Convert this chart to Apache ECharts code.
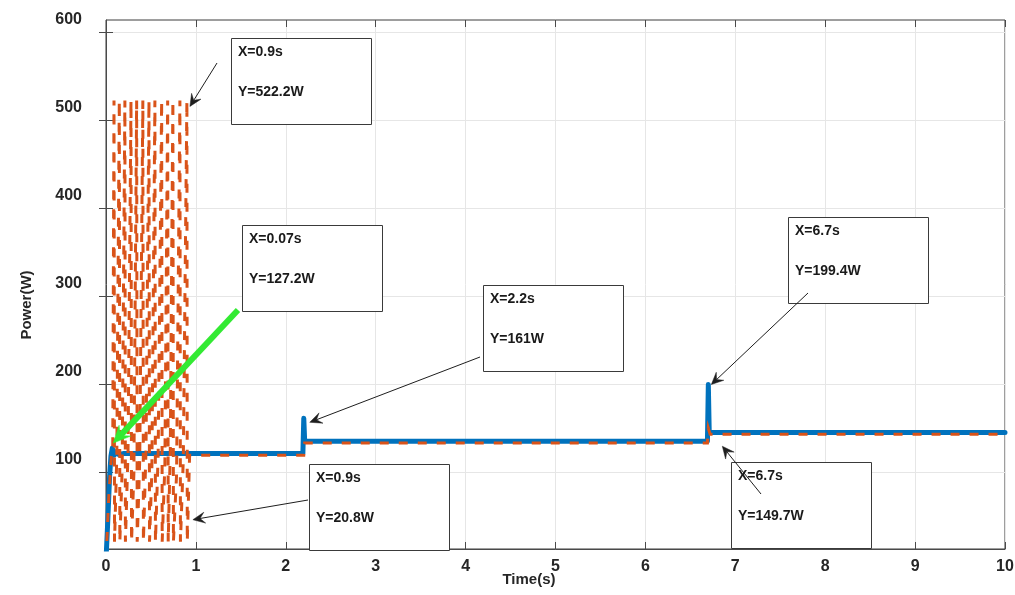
<!DOCTYPE html>
<html>
<head>
<meta charset="utf-8">
<title>Power(W)</title>
<script src="https://cdn.jsdelivr.net/npm/echarts@6/dist/echarts.min.js"></script>
<style>
  html, body { margin: 0; padding: 0; background: #ffffff; }
  #chart { width: 1015px; height: 595px; }
</style>
</head>
<body>
<div id="chart"></div>
<script>
// Axis ticks
const xTickValues = [0, 1, 2, 3, 4, 5, 6, 7, 8, 9, 10];
const yTickValues = [100, 200, 300, 400, 500, 600];

// Power drawn by the first (blue) trace: start-up, then load steps at 2.2 s and 6.7 s
const blueTime  = [0, 0.02, 0.04, 0.055, 0.07, 0.09, 0.11, 0.14, 0.2, 2.19, 2.2, 2.21, 6.69, 6.7, 6.71, 10];
const bluePower = [0, 45, 95, 118, 127.2, 119, 123, 120, 121, 121, 161, 135, 135, 199.4, 145, 145];

// Power drawn by the second (orange, dashed) trace: oscillating start-up up to 0.9 s, then steps
const orangeTime = [
  0, 0.03, 0.06, 0.075,
  0.089, 0.095, 0.12,
  0.148, 0.154, 0.18,
  0.21, 0.216, 0.245,
  0.278, 0.284, 0.31,
  0.341, 0.347, 0.375,
  0.41, 0.416, 0.445,
  0.478, 0.484, 0.51,
  0.544, 0.55, 0.58,
  0.619, 0.625, 0.655,
  0.686, 0.692, 0.715,
  0.744, 0.75, 0.785,
  0.822, 0.828, 0.86,
  0.9, 0.904, 0.93,
  2.2, 2.21, 6.69, 6.7, 6.72, 10
];
const orangePower = [
  0, 70, 118, 126,
  522.2, 20.8, 117,
  522.2, 20.8, 104,
  522.2, 20.8, 122,
  522.2, 20.8, 98,
  522.2, 20.8, 113,
  522.2, 20.8, 125,
  522.2, 20.8, 101,
  522.2, 20.8, 119,
  522.2, 20.8, 108,
  522.2, 20.8, 124,
  522.2, 20.8, 97,
  522.2, 20.8, 115,
  522.2, 20.8, 119,
  119, 133, 133, 149.7, 143, 143
];

// Data-tip callouts: the point they describe, then box/arrow layout in pixels
const callouts = [
  { x: 0.9,  y: 522.2, box: [231, 38],  tail: [217, 63],  tipOffset: [3, 6] },
  { x: 0.07, y: 127.2, box: [242, 225], tail: [238, 310], tipOffset: [1, -5], green: true },
  { x: 2.2,  y: 161,   box: [483, 285], tail: [480, 357], tipOffset: [6, 4] },
  { x: 6.7,  y: 199.4, box: [788, 217], tail: [808, 293], tipOffset: [3, 0] },
  { x: 0.9,  y: 20.8,  box: [309, 464], tail: [308, 500], tipOffset: [6, -22] },
  { x: 6.7,  y: 149.7, box: [731, 462], tail: [761, 494], tipOffset: [14, 18] }
];

const Y_MIN = 12.5, Y_MAX = 613.6;
const TEXT = '#262626';
const FONT = 'Liberation Sans, Arial, sans-serif';

function pairs(xs, ys) { return xs.map((x, i) => [x, ys[i]]); }

const chart = echarts.init(document.getElementById('chart'), null, { renderer: 'canvas' });

const hiddenAxisParts = {
  axisLine: { show: false },
  axisLabel: { show: false },
  splitLine: { show: false }
};

chart.setOption({
  animation: false,
  backgroundColor: '#ffffff',
  grid: {
    left: 106, right: 10, top: 20, bottom: 46,
    containLabel: false, outerBoundsMode: 'none',
    show: true, borderColor: '#3c3c3c', borderWidth: 1, backgroundColor: 'transparent'
  },
  xAxis: [
    {
      type: 'value', min: 0, max: 10, interval: 1,
      axisLine: { show: true, onZero: false, lineStyle: { color: '#4a4a4a', width: 1 } },
      axisTick: { show: true, inside: true, length: 7, lineStyle: { color: '#4a4a4a' } },
      axisLabel: {
        show: true, margin: 10, color: TEXT,
        fontFamily: FONT, fontWeight: 'bold', fontSize: 16,
        formatter: v => xTickValues.includes(v) ? String(v) : ''
      },
      splitLine: { show: true, lineStyle: { color: '#e6e6e6', width: 1 } }
    },
    Object.assign({
      type: 'value', min: 0, max: 10, interval: 1, position: 'top',
      axisTick: { show: true, inside: true, length: 7, lineStyle: { color: '#4a4a4a' } }
    }, hiddenAxisParts)
  ],
  yAxis: [
    {
      type: 'value', min: Y_MIN, max: Y_MAX,
      axisLine: { show: true, onZero: false, lineStyle: { color: '#4a4a4a', width: 1 } },
      axisTick: { show: true, inside: true, length: 7, customValues: yTickValues, lineStyle: { color: '#4a4a4a' } },
      axisLabel: {
        show: true, margin: 24, color: TEXT, customValues: yTickValues,
        fontFamily: FONT, fontWeight: 'bold', fontSize: 16,
        verticalAlign: 'bottom', lineHeight: 24
      },
      splitLine: { show: true, lineStyle: { color: '#e6e6e6', width: 1 } }
    },
    Object.assign({
      type: 'value', min: Y_MIN, max: Y_MAX, position: 'right',
      axisTick: { show: true, inside: true, length: 7, customValues: yTickValues, lineStyle: { color: '#4a4a4a' } }
    }, hiddenAxisParts)
  ],
  series: [
    {
      name: 'P1', type: 'line', xAxisIndex: 0, yAxisIndex: 0,
      data: pairs(blueTime, bluePower),
      showSymbol: false, symbol: 'none', clip: true, z: 2,
      lineStyle: { color: '#0072BD', width: 5, join: 'round', cap: 'round' }
    },
    {
      name: 'P2', type: 'line', xAxisIndex: 0, yAxisIndex: 0,
      data: pairs(orangeTime, orangePower),
      showSymbol: false, symbol: 'none', clip: true, z: 3,
      lineStyle: { color: '#D95319', width: 3, type: [9, 10], join: 'miter', cap: 'butt' }
    }
  ]
});

// Arrow head in the style of a data-tip arrow: two barbs with a notched back
function arrowHead(tip, tail, len, half, notch) {
  const dx = tip[0] - tail[0], dy = tip[1] - tail[1];
  const d = Math.hypot(dx, dy), ux = dx / d, uy = dy / d, nx = -uy, ny = ux;
  const bx = tip[0] - ux * len, by = tip[1] - uy * len;
  const back = [tip[0] - ux * len * notch, tip[1] - uy * len * notch];
  return {
    points: [tip, [bx + nx * half, by + ny * half], back, [bx - nx * half, by - ny * half]],
    back: back
  };
}

const BOX_W = 140, BOX_H = 86;
const graphics = [];

callouts.forEach(c => {
  const p = chart.convertToPixel({ xAxisIndex: 0, yAxisIndex: 0 }, [c.x, c.y]);
  const tip = [p[0] + c.tipOffset[0], p[1] + c.tipOffset[1]];
  const [bx, by] = c.box;
  graphics.push({
    type: 'rect', z: 5,
    shape: { x: bx + 0.5, y: by + 0.5, width: BOX_W, height: BOX_H },
    style: { fill: '#ffffff', stroke: '#3a3a3a', lineWidth: 1 }
  });
  graphics.push({
    type: 'text', z: 6, x: bx + 7, y: by + 14,
    style: { text: 'X=' + c.x + 's', fill: '#1a1a1a', font: 'bold 14px ' + FONT, verticalAlign: 'middle', align: 'left' }
  });
  graphics.push({
    type: 'text', z: 6, x: bx + 7, y: by + 54,
    style: { text: 'Y=' + c.y + 'W', fill: '#1a1a1a', font: 'bold 14px ' + FONT, verticalAlign: 'middle', align: 'left' }
  });
  const color = c.green ? '#33ea33' : '#1e1e1e';
  const head = c.green ? arrowHead(tip, c.tail, 17, 8, 0.6) : arrowHead(tip, c.tail, 12, 5.5, 0.6);
  graphics.push({
    type: 'line', z: 8,
    shape: { x1: c.tail[0], y1: c.tail[1], x2: head.back[0], y2: head.back[1] },
    style: { stroke: color, lineWidth: c.green ? 6 : 1 }
  });
  graphics.push({
    type: 'polygon', z: 8,
    shape: { points: head.points },
    style: { fill: color, stroke: color, lineWidth: 0.5 }
  });
});

// Axis titles
graphics.push({
  type: 'text', z: 6, x: 27, y: 305, rotation: Math.PI / 2,
  style: { text: 'Power(W)', fill: TEXT, font: 'bold 15px ' + FONT, align: 'center', verticalAlign: 'middle' }
});
graphics.push({
  type: 'text', z: 6, x: 529, y: 580,
  style: { text: 'Time(s)', fill: TEXT, font: 'bold 15px ' + FONT, align: 'center', verticalAlign: 'middle' }
});

chart.setOption({ graphic: graphics });
</script>
</body>
</html>
